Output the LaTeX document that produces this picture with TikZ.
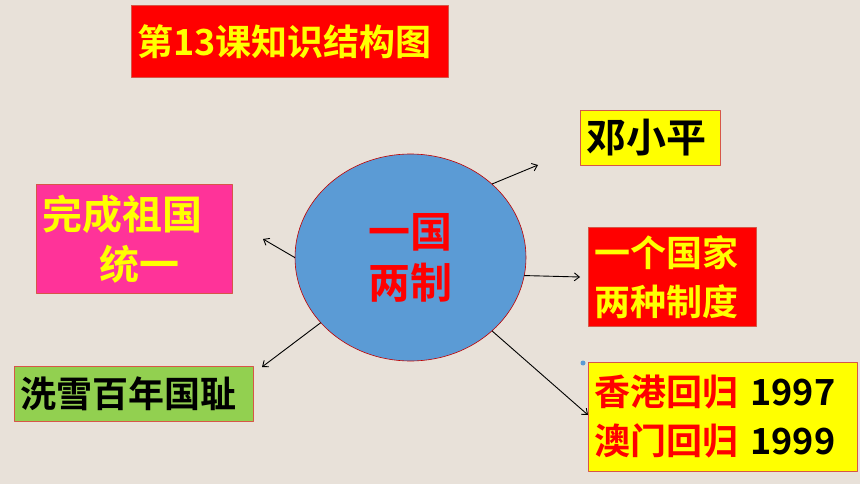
\documentclass[tikz,border=0pt]{standalone}
\usepackage{fontspec}
\setmainfont{Noto Sans CJK SC}[BoldFont=* Bold]
\usetikzlibrary{shapes.geometric,arrows.meta}
\definecolor{giay}{RGB}{232,225,217}
\definecolor{hongse}{RGB}{255,0,0}
\definecolor{huangse}{RGB}{255,255,0}
\definecolor{fenhong}{RGB}{255,51,153}
\definecolor{lvse}{RGB}{146,208,80}
\definecolor{lanse}{RGB}{91,155,213}
\definecolor{vien}{RGB}{214,86,72}
\tikzset{
	hop/.style={draw=vien, line width=0.8pt, anchor=north west, inner xsep=6pt, inner ysep=0pt, align=left, font=\bfseries\fontsize{36}{49}\selectfont},
	muiten/.style={-{Straight Barb[length=5pt,width=8pt]}, line width=0.9pt, black}
}
\begin{document}
\begin{tikzpicture}[x=1pt, y=-1pt, line join=round, line cap=round]
	\fill[giay] (0,0) rectangle (860,484);%nền giấy
	\node[hop, fill=hongse, text=huangse, text width=305pt, minimum height=72pt] (tieude) at (131,5) {第13课知识结构图};
	\node[hop, fill=fenhong, text=huangse, text width=184pt, minimum height=109pt, font=\bfseries\fontsize{40}{50}\selectfont] (tongyi) at (36,184) {完成祖国\\\hspace*{57pt}统一};
	\node[hop, fill=lvse, text=black, text width=227pt, minimum height=55pt] (xuechi) at (14,366) {洗雪百年国耻};
	\node[hop, fill=huangse, text=black, text width=128pt, minimum height=55pt, font=\bfseries\fontsize{40}{49}\selectfont] (deng) at (580,110) {邓小平};
	\node[hop, fill=hongse, text=huangse, text width=156pt, minimum height=99pt] (zhidu) at (588,227) {一个国家\\两种制度};
	\node[hop, fill=huangse, text=black, text width=257pt, minimum height=109pt] (huigui) at (588,362) {\textcolor{hongse}{香港回归} 1997\\\textcolor{hongse}{澳门回归} 1999};
	\node[ellipse, draw={rgb,255:red,192;green,0;blue,0}, line width=0.6pt, fill=lanse, minimum width=231pt, minimum height=207pt, inner sep=0pt, text=hongse, align=center, font=\bfseries\fontsize{42}{51}\selectfont] (yuan) at (410.5,257.5) {一国\\两制};
	%đầu mũi tên
	\coordinate (dDeng) at (538,165);
	\coordinate (dZhidu) at (580,277);
	\coordinate (dHuigui) at (588,415);
	\coordinate (dTongyi) at (263,239);
	\coordinate (dXuechi) at (262,367);
	\draw[muiten] (yuan.42) -- (dDeng);
	\draw[muiten] (yuan.-9) -- (dZhidu);
	\draw[muiten] (yuan.-42) -- (dHuigui);
	\draw[muiten] (yuan.180) -- (dTongyi);
	\draw[muiten] (yuan.216) -- (dXuechi);
	\fill[lanse] (583,363) circle (2.5);%chấm xanh
\end{tikzpicture}
\end{document}
